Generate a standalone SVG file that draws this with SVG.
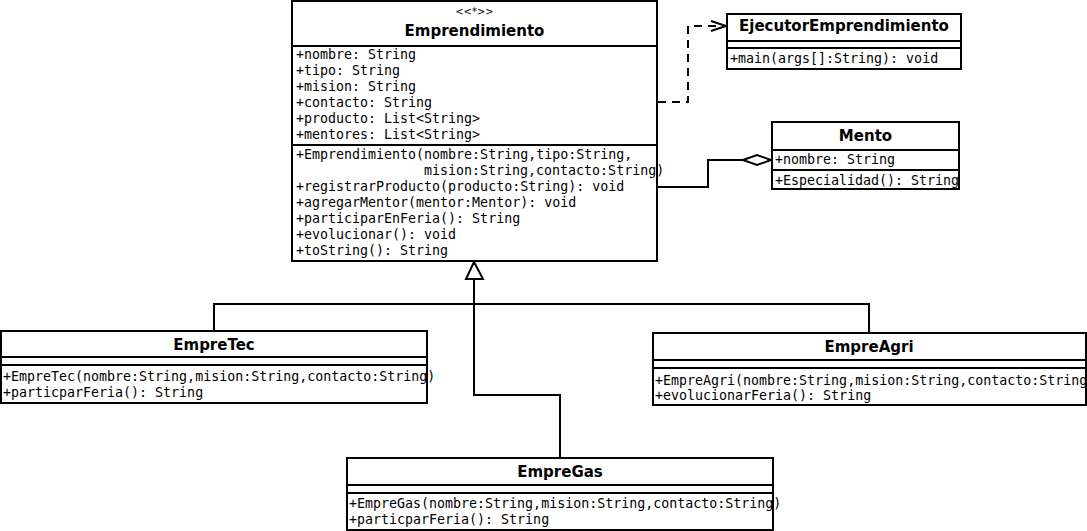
<svg xmlns="http://www.w3.org/2000/svg" width="1087" height="531" viewBox="0 0 1087 531">
<style>
.box{fill:#fff;stroke:#000;stroke-width:2}
.sep{stroke:#000;stroke-width:2;fill:none}
.ttl{font-family:"DejaVu Sans",sans-serif;font-weight:bold;font-size:15px;text-anchor:middle;fill:#000}
.st{font-family:"DejaVu Sans",sans-serif;font-size:10px;text-anchor:middle;fill:#000}
.m{font-family:"DejaVu Sans Mono",monospace;font-size:13.3px;fill:#000}
.ln{stroke:#000;stroke-width:2;fill:none}
</style>
<defs>
<marker id="open" markerUnits="userSpaceOnUse" markerWidth="20" markerHeight="14" refX="16" refY="7" orient="auto">
<path d="M1,2 L16,7 L1,12" fill="none" stroke="#000" stroke-width="2"/>
</marker>
<marker id="diamond" markerUnits="userSpaceOnUse" markerWidth="32" markerHeight="14" refX="29" refY="7" orient="auto">
<path d="M1,7 L15,2 L29,7 L15,12 Z" fill="#fff" stroke="#000" stroke-width="2"/>
</marker>
</defs>
<rect width="1087" height="531" fill="#fff"/>
<g id="connectors">
<polyline class="ln" stroke-dasharray="8 6" points="658,102 688,102 688,26 726,26" marker-end="url(#open)"/>
<polyline class="ln" points="658,187 708,187 708,160 771,160" marker-end="url(#diamond)"/>
<polyline class="ln" points="214,331 214,304 869,304 869,333"/>
<polyline class="ln" points="474,279 474,395 560,395 560,457"/>
<polygon points="474,262 466,279 483,279" fill="#fff" stroke="#000" stroke-width="2"/>
</g>
<g id="Emprendimiento">
<rect class="box" x="292" y="1" width="365" height="260"/>
<line class="sep" x1="292" y1="46" x2="657" y2="46"/>
<line class="sep" x1="292" y1="145" x2="657" y2="145"/>
<text class="st" x="474.5" y="15">&lt;&lt;*&gt;&gt;</text>
<text class="ttl" x="474.5" y="36">Emprendimiento</text>
<text class="m" x="296" y="59">+nombre: String</text>
<text class="m" x="296" y="75">+tipo: String</text>
<text class="m" x="296" y="91">+mision: String</text>
<text class="m" x="296" y="107">+contacto: String</text>
<text class="m" x="296" y="123">+producto: List&lt;String&gt;</text>
<text class="m" x="296" y="139">+mentores: List&lt;String&gt;</text>
<text class="m" x="296" y="159">+Emprendimiento(nombre:String,tipo:String,</text>
<text class="m" x="424" y="175">mision:String,contacto:String)</text>
<text class="m" x="296" y="191">+registrarProducto(producto:String): void</text>
<text class="m" x="296" y="207">+agregarMentor(mentor:Mentor): void</text>
<text class="m" x="296" y="223">+participarEnFeria(): String</text>
<text class="m" x="296" y="239">+evolucionar(): void</text>
<text class="m" x="296" y="255">+toString(): String</text>
</g>
<g id="EjecutorEmprendimiento">
<rect class="box" x="727" y="14" width="234" height="55"/>
<line class="sep" x1="727" y1="41" x2="961" y2="41"/>
<line class="sep" x1="727" y1="48" x2="961" y2="48"/>
<text class="ttl" x="844" y="31">EjecutorEmprendimiento</text>
<text class="m" x="730" y="63">+main(args[]:String): void</text>
</g>
<g id="Mento">
<rect class="box" x="772" y="122" width="187" height="67"/>
<line class="sep" x1="772" y1="150" x2="959" y2="150"/>
<line class="sep" x1="772" y1="170" x2="959" y2="170"/>
<text class="ttl" x="865.5" y="141">Mento</text>
<text class="m" x="775" y="164">+nombre: String</text>
<text class="m" x="775" y="185">+Especialidad(): String</text>
</g>
<g id="EmpreTec">
<rect class="box" x="1" y="331" width="426" height="72"/>
<line class="sep" x1="1" y1="357" x2="427" y2="357"/>
<line class="sep" x1="1" y1="365" x2="427" y2="365"/>
<text class="ttl" x="214" y="350">EmpreTec</text>
<text class="m" x="3" y="381">+EmpreTec(nombre:String,mision:String,contacto:String)</text>
<text class="m" x="3" y="397">+particparFeria(): String</text>
</g>
<g id="EmpreAgri">
<rect class="box" x="653" y="333" width="433" height="72"/>
<line class="sep" x1="653" y1="360" x2="1086" y2="360"/>
<line class="sep" x1="653" y1="368" x2="1086" y2="368"/>
<text class="ttl" x="869" y="352">EmpreAgri</text>
<text class="m" x="655" y="385">+EmpreAgri(nombre:String,mision:String,contacto:String</text>
<text class="m" x="655" y="400">+evolucionarFeria(): String</text>
</g>
<g id="EmpreGas">
<rect class="box" x="347" y="458" width="426" height="72"/>
<line class="sep" x1="347" y1="485" x2="773" y2="485"/>
<line class="sep" x1="347" y1="493" x2="773" y2="493"/>
<text class="ttl" x="560" y="477">EmpreGas</text>
<text class="m" x="349" y="508">+EmpreGas(nombre:String,mision:String,contacto:String)</text>
<text class="m" x="349" y="524">+particparFeria(): String</text>
</g>
</svg>
